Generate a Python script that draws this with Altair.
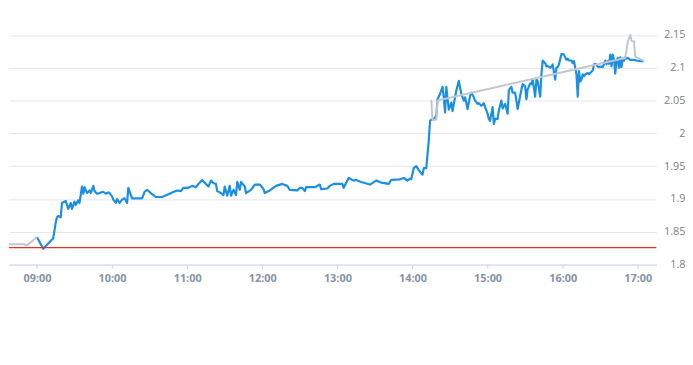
import altair as alt
import pandas as pd

# ---- data ----
blue_time = [
    "09:00", "09:05", "09:13", "09:15", "09:16", "09:17", "09:19", "09:20", "09:23", "09:25",
    "09:27", "09:28", "09:30", "09:31", "09:33", "09:34", "09:36", "09:37", "09:38", "09:40",
    "09:42", "09:43", "09:45", "09:46", "09:48", "09:50", "09:53", "09:55", "09:57", "09:58",
    "10:00", "10:01", "10:03", "10:04", "10:06", "10:08", "10:10", "10:12", "10:13", "10:16",
    "10:18", "10:24", "10:26", "10:28", "10:31", "10:35", "10:40", "10:46", "10:48", "10:52",
    "10:55", "10:57", "11:01", "11:04", "11:07", "11:09", "11:12", "11:15", "11:17", "11:19",
    "11:21", "11:23", "11:24", "11:27", "11:29", "11:30", "11:32", "11:34", "11:35", "11:37",
    "11:39", "11:40", "11:42", "11:43", "11:46", "11:47", "11:51", "11:54", "11:58", "12:01",
    "12:02", "12:06", "12:11", "12:16", "12:20", "12:22", "12:28", "12:30", "12:32", "12:34",
    "12:35", "12:38", "12:42", "12:46", "12:47", "12:52", "12:54", "12:57", "13:04", "13:05",
    "13:09", "13:13", "13:15", "13:19", "13:26", "13:31", "13:35", "13:41", "13:43", "13:50",
    "13:53", "13:56", "13:58", "13:59", "14:01", "14:03", "14:05", "14:08", "14:09", "14:11",
    "14:13", "14:14", "14:16", "14:17", "14:19", "14:20", "14:22", "14:24", "14:25", "14:26",
    "14:27", "14:29", "14:31", "14:32", "14:33", "14:35", "14:37", "14:38", "14:39", "14:41",
    "14:42", "14:44", "14:46", "14:47", "14:49", "14:50", "14:52", "14:53", "14:55", "14:57",
    "14:58", "15:00", "15:01", "15:02", "15:04", "15:05", "15:06", "15:08", "15:09", "15:11",
    "15:12", "15:14", "15:16", "15:17", "15:19", "15:20", "15:22", "15:23", "15:24", "15:26",
    "15:27", "15:28", "15:30", "15:31", "15:32", "15:34", "15:35", "15:36", "15:38", "15:39",
    "15:40", "15:42", "15:43", "15:44", "15:46", "15:47", "15:48", "15:50", "15:51", "15:52",
    "15:54", "15:55", "15:56", "15:57", "15:59", "16:00", "16:01", "16:03", "16:04", "16:05",
    "16:07", "16:08", "16:09", "16:11", "16:12", "16:13", "16:14", "16:15", "16:16", "16:17",
    "16:18", "16:20", "16:21", "16:22", "16:24", "16:25", "16:26", "16:28", "16:29", "16:30",
    "16:32", "16:33", "16:34", "16:35", "16:36", "16:37", "16:38", "16:39", "16:40", "16:41",
    "16:42", "16:43", "16:44", "16:45", "16:46", "16:47", "16:48", "16:49", "16:50", "16:51",
    "16:52", "16:54", "16:57", "16:59", "17:02", "17:05",
]
blue_price = [
    1.842, 1.824, 1.840, 1.864, 1.872, 1.874, 1.872, 1.894, 1.897, 1.885,
    1.894, 1.885, 1.896, 1.891, 1.898, 1.894, 1.919, 1.908, 1.918, 1.909,
    1.913, 1.909, 1.920, 1.912, 1.908, 1.909, 1.911, 1.908, 1.910, 1.909,
    1.904, 1.899, 1.894, 1.900, 1.894, 1.899, 1.901, 1.894, 1.917, 1.901,
    1.901, 1.901, 1.911, 1.914, 1.909, 1.903, 1.903, 1.908, 1.910, 1.913,
    1.912, 1.917, 1.917, 1.920, 1.918, 1.923, 1.929, 1.923, 1.919, 1.928,
    1.924, 1.923, 1.912, 1.909, 1.906, 1.919, 1.905, 1.920, 1.905, 1.914,
    1.906, 1.926, 1.914, 1.926, 1.919, 1.909, 1.914, 1.922, 1.922, 1.915,
    1.909, 1.913, 1.920, 1.923, 1.920, 1.914, 1.913, 1.917, 1.917, 1.912,
    1.918, 1.918, 1.918, 1.922, 1.915, 1.916, 1.920, 1.923, 1.923, 1.917,
    1.932, 1.928, 1.929, 1.926, 1.922, 1.928, 1.925, 1.923, 1.929, 1.930,
    1.932, 1.928, 1.931, 1.930, 1.947, 1.950, 1.944, 1.937, 1.947, 1.947,
    1.989, 2.019, 2.022, 2.021, 2.027, 2.052, 2.060, 2.071, 2.055, 2.032,
    2.071, 2.036, 2.047, 2.034, 2.045, 2.065, 2.080, 2.070, 2.060, 2.050,
    2.055, 2.037, 2.057, 2.062, 2.055, 2.050, 2.045, 2.046, 2.042, 2.046,
    2.040, 2.030, 2.022, 2.019, 2.040, 2.014, 2.022, 2.022, 2.035, 2.050,
    2.038, 2.045, 2.030, 2.066, 2.071, 2.062, 2.062, 2.050, 2.037, 2.057,
    2.067, 2.075, 2.072, 2.052, 2.067, 2.076, 2.075, 2.082, 2.056, 2.082,
    2.080, 2.056, 2.090, 2.111, 2.107, 2.102, 2.103, 2.100, 2.102, 2.105,
    2.082, 2.100, 2.101, 2.105, 2.121, 2.121, 2.120, 2.112, 2.114, 2.111,
    2.111, 2.107, 2.110, 2.090, 2.056, 2.095, 2.079, 2.082, 2.090, 2.087,
    2.090, 2.092, 2.090, 2.092, 2.096, 2.105, 2.106, 2.102, 2.101, 2.102,
    2.101, 2.106, 2.111, 2.105, 2.110, 2.106, 2.120, 2.102, 2.120, 2.112,
    2.091, 2.111, 2.115, 2.100, 2.116, 2.101, 2.114, 2.111, 2.116, 2.114,
    2.115, 2.112, 2.112, 2.111, 2.110, 2.110,
]

gray_time = ["08:31", "08:50", "08:52", "09:00",
             "14:15", "14:16", "14:19", "14:20", "16:50", "16:52", "16:54",
             "16:55", "16:57", "16:58", "17:05"]
gray_price = [1.831, 1.831, 1.829, 1.842,
              2.051, 2.020, 2.021, 2.050, 2.115, 2.140, 2.150,
              2.141, 2.140, 2.117, 2.110]
gray_segment = [1, 1, 1, 1,
                2, 2, 2, 2, 2, 2, 2,
                2, 2, 2, 2]

prev_close = 1.826
y_ticks = [1.8, 1.85, 1.9, 1.95, 2.0, 2.05, 2.1, 2.15]
x_ticks = ["09:00", "10:00", "11:00", "12:00", "13:00", "14:00", "15:00", "16:00", "17:00"]


def to_min(s):
    h, m = s.split(":")
    return int(h) * 60 + int(m)


blue = pd.DataFrame({"t": [to_min(s) for s in blue_time], "price": blue_price})
gray = pd.DataFrame({"t": [to_min(s) for s in gray_time], "price": gray_price,
                     "seg": gray_segment})
ref = pd.DataFrame({"price": [prev_close]})

xscale = alt.Scale(domain=[517.66, 1034.8], nice=False, zero=False)
yscale = alt.Scale(domain=[1.8, 2.1886], nice=False, zero=False)

xaxis = alt.Axis(
    values=[to_min(s) for s in x_ticks],
    labelExpr="(datum.value < 600 ? '0' : '') + floor(datum.value / 60) + ':00'",
    grid=False, domainColor="#ccd6eb", tickColor="#ccd6eb", tickSize=4,
    labelPadding=4, labelFont="Open Sans", labelFontWeight="bold",
    labelFontSize=11, labelColor="#8593a5", title=None,
    labelAlign="center", labelFlush=False, labelOverlap=False,
)
yaxis = alt.Axis(
    orient="right", values=y_ticks, labelExpr="'' + datum.value",
    grid=True, gridColor="#e6e6e6", domain=False, ticks=False, tickSize=0,
    labelAlign="right", labelPadding=29, labelFont="Open Sans",
    labelFontSize=11, labelColor="#7c8188", title=None,
    labelFlush=False, labelOverlap=False,
)

X = alt.X("t:Q", scale=xscale, axis=xaxis)
Y = alt.Y("price:Q", scale=yscale, axis=yaxis)

blue_line = alt.Chart(blue).mark_line(
    color="#1a8fe3", strokeWidth=2.2, clip=True, strokeJoin="round"
).encode(x=X, y=Y)

gray_line = alt.Chart(gray).mark_line(
    color="#c3c7cd", strokeWidth=2, clip=True, strokeJoin="round"
).encode(x=X, y=Y, detail="seg:N")

rule = alt.Chart(ref).mark_rule(color="#e0312a", strokeWidth=1.2).encode(y=Y)

chart = alt.layer(blue_line, rule, gray_line).properties(
    width=655, height=258,
    padding={"left": 0, "top": 0, "right": 0, "bottom": 0},
).configure_view(stroke=None)

chart.save("out.html", embed_options={"renderer": "svg", "actions": False})
